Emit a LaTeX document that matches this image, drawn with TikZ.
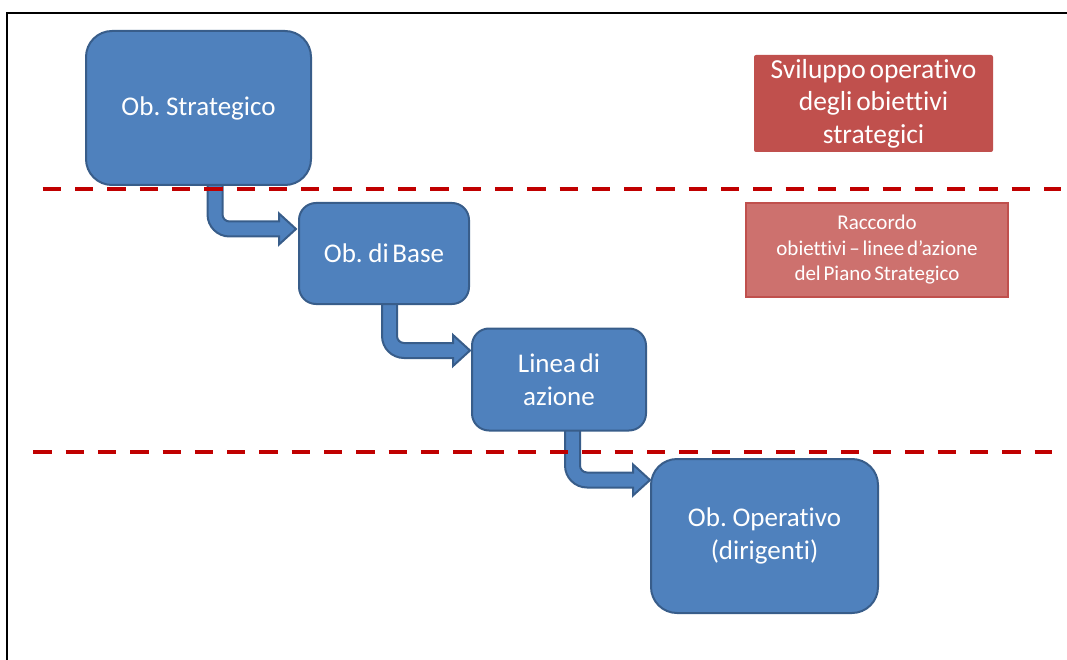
\documentclass[tikz,border=0pt]{standalone}
\usepackage{fontspec}
\setmainfont{Carlito}[Ligatures={TeX,NoCommon}, WordSpace=0.6]
\usetikzlibrary{calc}
\definecolor{boxblue}{HTML}{4F81BD}
\definecolor{boxedge}{HTML}{385D8A}
\definecolor{redbox}{HTML}{C0504D}
\definecolor{redlight}{HTML}{CD716E}
\definecolor{dashred}{HTML}{C00000}
\newcommand{\bentarrow}[2]{%
  \draw[arrowshape] let \p1=(#1), \p2=(#2) in
    (\x1-7.5pt,\y1+3pt) -- (\x1-7.5pt,\y2+14.5pt)
    .. controls (\x1-7.5pt,\y2+2.35pt) and (\x1+2.35pt,\y2-7.5pt) .. (\x1+14.5pt,\y2-7.5pt)
    -- (\x2-17pt,\y2-7.5pt) -- (\x2-17pt,\y2-15.5pt) -- (\x2,\y2)
    -- (\x2-17pt,\y2+15.5pt) -- (\x2-17pt,\y2+7.5pt) -- (\x1+14.5pt,\y2+7.5pt)
    .. controls (\x1+10.63pt,\y2+7.5pt) and (\x1+7.5pt,\y2+10.63pt) .. (\x1+7.5pt,\y2+14.5pt)
    -- (\x1+7.5pt,\y1+3pt) -- cycle;}
\begin{document}
\begin{tikzpicture}[x=1pt,y=-1pt,
  bluebox/.style={draw=boxedge, fill=boxblue, line width=2pt, text=white, align=center,
    inner sep=0pt, font=\fontsize{27}{33}\selectfont},
  redsolid/.style={fill=redbox, rounded corners=2pt, text=white, align=center, inner sep=0pt,
    font=\fontsize{27.5}{32.5}\selectfont},
  redsoft/.style={fill=redlight, draw=redbox, line width=2pt, text=white, align=center, inner sep=0pt,
    font=\fontsize{21}{25.5}\selectfont},
  arrowshape/.style={draw=boxedge, fill=boxblue, line width=2pt, line join=miter},
  sepline/.style={dashred, line width=4pt, dash pattern=on 18.3pt off 14pt},
  frameline/.style={black, line width=1.3pt}]
\useasboundingbox (0,0) rectangle (1067,660);
\draw[frameline] (7,660) -- (7,13) -- (1067,13);

% placement of the boxes (nodes created first for the arrow coordinates)
\path (198.5,108) coordinate (cA);
\path (384,253.5) coordinate (cB);
\path (559,379.5) coordinate (cC);
\path (764.5,536) coordinate (cD);

% arrows (drawn below the boxes)
\path (cA) ++(16.5,77) coordinate (s1);
\path (cB) ++(-88,-24.5) coordinate (t1);
\path (cB) ++(5.5,51.5) coordinate (s2);
\path (cC) ++(-89,-29) coordinate (t2);
\path (cC) ++(13.5,52) coordinate (s3);
\path (cD) ++(-114.5,-56) coordinate (t3);
\bentarrow{s1}{t1}
\bentarrow{s2}{t2}
\bentarrow{s3}{t3}

\node[bluebox, minimum width=225pt, minimum height=154pt, rounded corners=26pt] (A) at (cA) {Ob. Strategico};
\node[bluebox, minimum width=170pt, minimum height=101pt, rounded corners=17pt] (B) at (cB) {Ob. di Base};
\node[bluebox, minimum width=174pt, minimum height=102pt, rounded corners=17pt] (C) at (cC) {Linea di\\azione};
\node[bluebox, minimum width=227pt, minimum height=154pt, rounded corners=26pt] (D) at (cD) {Ob. Operativo\\(dirigenti)};

\node[redsolid, minimum width=239pt, minimum height=97pt] (E) at (873.5,103.5) {Sviluppo operativo\\degli obiettivi\\strategici};
\node[redsoft, minimum width=262pt, minimum height=94pt] (F) at (877,250) {Raccordo\\obiettivi – linee d’azione\\del Piano Strategico};

\draw[sepline] (42.7,189) -- (1061,189);
\draw[sepline] (33.3,452) -- (1052,452);
\end{tikzpicture}
\end{document}
